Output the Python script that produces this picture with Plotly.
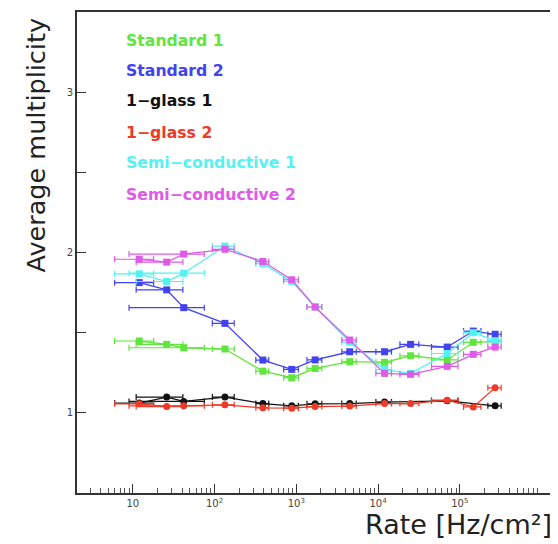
import plotly.graph_objects as go

# ---- data ----
rate = [12, 26, 42, 134, 390, 880, 1700, 4500, 12000, 25000, 70000, 146000, 270000]
rate_err = [6, 15, 33, 40, 70, 180, 350, 900, 2600, 6500, 25000, 35000, 50000]

standard_1 = [1.448, 1.427, 1.406, 1.398, 1.26, 1.219, 1.277, 1.319, 1.315, 1.356, 1.33, 1.44, 1.445]
standard_2 = [1.812, 1.767, 1.656, 1.558, 1.329, 1.271, 1.33, 1.381, 1.381, 1.427, 1.41, 1.51, 1.49]
glass1_1 = [1.061, 1.098, 1.071, 1.098, 1.058, 1.044, 1.056, 1.058, 1.067, None, 1.075, None, 1.044]
glass1_2 = [1.056, 1.039, 1.044, 1.05, 1.031, 1.029, 1.039, 1.042, 1.058, 1.058, 1.079, 1.037, 1.156]
semi_1 = [1.867, 1.819, 1.871, 2.04, 1.93, 1.82, 1.66, 1.44, 1.27, 1.246, 1.37, 1.5, 1.45]
semi_2 = [1.958, 1.94, 1.99, 2.02, 1.944, 1.83, 1.66, 1.454, 1.246, 1.24, 1.29, 1.365, 1.41]

series_names = ["Standard 1", "Standard 2", "1\u2212glass 1", "1\u2212glass 2",
                "Semi\u2212conductive 1", "Semi\u2212conductive 2"]
series_values = [standard_1, standard_2, glass1_1, glass1_2, semi_1, semi_2]
series_colors = ["#5ee63c", "#4242f0", "#111111", "#ee3a28", "#55f2f2", "#e05ae8"]
series_symbols = ["square", "square", "circle", "circle", "square", "square"]

x_tick_vals = [10, 100, 1000, 10000, 100000]
x_tick_text = ["10", "10<sup>2</sup>", "10<sup>3</sup>", "10<sup>4</sup>", "10<sup>5</sup>"]
y_tick_vals = [0.5, 1, 1.5, 2, 2.5, 3, 3.5]
y_tick_text = ["", "1", "", "2", "", "3", ""]

minor_vals = [m * 10 ** e for e in range(0, 7) for m in range(2, 10)]

# The page body has an 8px margin, so the figure is 8px smaller and top/left margins shifted
OFF = 8

fig = go.Figure()
for name, vals, col, sym in zip(series_names, series_values, series_colors, series_symbols):
    fig.add_trace(go.Scatter(
        x=rate, y=vals, name=name, mode="lines+markers", connectgaps=True,
        line=dict(color=col, width=1.3),
        marker=dict(color=col, symbol=sym, size=7),
        error_x=dict(type="data", array=rate_err, color=col, thickness=1.2, width=3),
        showlegend=False,
    ))

# legend as coloured text
leg_y = [40, 70, 101, 132, 163, 194]
for name, col, py in zip(series_names, series_colors, leg_y):
    fig.add_annotation(x=(124 - 77) / 475, y=(493 - py) / 481, xref="paper", yref="paper",
                       text=name, showarrow=False, xanchor="left", yanchor="middle",
                       font=dict(family="DejaVu Sans", size=15.7, color=col, weight="bold"))

fig.add_annotation(x=(35 - 77) / 475, y=(493 - 16) / 481, xref="paper", yref="paper",
                   text="Average multiplicity", textangle=-90, showarrow=False,
                   xanchor="center", yanchor="top",
                   font=dict(family="DejaVu Sans", size=25.5, color="#222"))
fig.add_annotation(x=(554 - 77) / 475, y=(493 - 524) / 481, xref="paper", yref="paper",
                   text="Rate [Hz/cm\u00b2]", showarrow=False,
                   xanchor="right", yanchor="middle",
                   font=dict(family="DejaVu Sans", size=27, color="#222"))

fig.update_layout(
    width=558 - OFF, height=544 - OFF,
    margin=dict(l=77 - OFF, r=6, t=12 - OFF, b=51, autoexpand=False),
    paper_bgcolor="white", plot_bgcolor="white",
    xaxis=dict(type="log", range=[0.318, 6.127], tickvals=x_tick_vals, ticktext=x_tick_text,
               ticks="inside", ticklen=9, tickcolor="#333", showgrid=False, zeroline=False,
               showline=True, linecolor="#333", linewidth=2, mirror=True,
               tickfont=dict(family="DejaVu Sans", size=10, color="#444"),
               minor=dict(ticks="inside", ticklen=5, tickcolor="#555", tickvals=minor_vals, showgrid=False)),
    yaxis=dict(range=[0.5, 3.5], tickvals=y_tick_vals, ticktext=y_tick_text,
               ticks="inside", ticklen=9, tickcolor="#333", showgrid=False, zeroline=False,
               showline=True, linecolor="#333", linewidth=2, mirror=True,
               tickfont=dict(family="DejaVu Sans", size=10, color="#444")),
)

fig.write_html("out.html")
